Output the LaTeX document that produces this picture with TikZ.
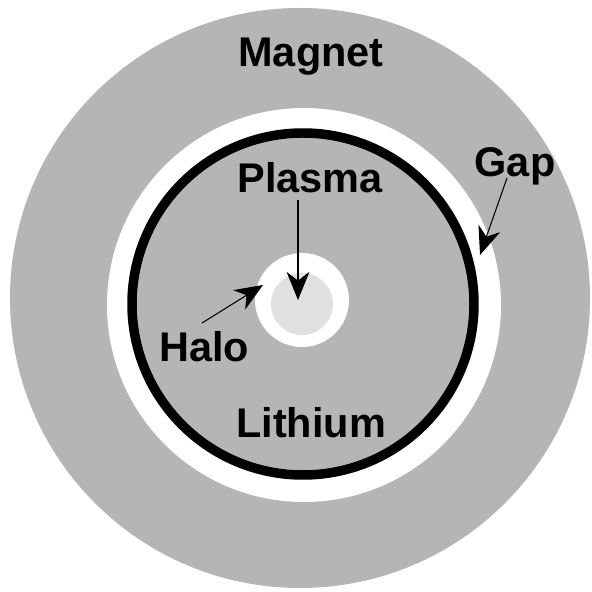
\documentclass[tikz,border=0pt]{standalone}
\usepackage{tikz}
\usetikzlibrary{arrows.meta}
\usepackage{tkz-euclide}
\usepackage{fontspec}
\setmainfont{Liberation Sans}
\definecolor{magnetgray}{gray}{0.71}
\definecolor{plasmagray}{gray}{0.88}

\begin{document}
\begin{tikzpicture}[scale=2,
    layer name/.style={font=\fontsize{23.6}{28}\selectfont\bfseries, inner sep=0pt, anchor=base},
    pointer/.style={line width=0.6pt, -{Stealth[length=16pt, width=13pt, inset=5pt]}}]
                \useasboundingbox (-3.00,-2.92) rectangle (2.92,3.00);
                % centres and a point on each ring
                \tkzDefPoints{0/0.02/M, 0/2.92/m, 0.04/-0.05/G, 0.04/1.92/g,
                  0.03/-0.04/L, 0.03/1.67/l, 0.02/0/H, 0.02/0.47/h, 0.02/-0.04/P, 0.02/0.27/p}
                % arrow ends
                \tkzDefPoints{-0.02/1.00/Ps, -0.02/0.00/Pe, -0.98/-0.23/Hs, -0.37/0.15/He,
                  2.07/1.22/Gs, 1.80/0.45/Ge}
                \tkzFillCircle[color=magnetgray](M,m)
                \tkzFillCircle[color=white](G,g)
                \tkzDrawCircle[draw=black, line width=5.4pt, fill=magnetgray](L,l)
                \tkzFillCircle[color=white](H,h)
                \tkzFillCircle[color=plasmagray](P,p)
                \node[layer name] (magnet) at (0.11,2.33) {Magnet};
                \node[layer name] (plasma) at (0.10,1.07) {Plasma};
                \node[layer name] (halo) at (-0.96,-0.62) {Halo};
                \node[layer name] (lithium) at (0.11,-1.37) {Lithium};
                \node[layer name] (gap) at (2.15,1.23) {Gap};
                \draw[pointer] (Ps) -- (Pe);
                \draw[pointer] (Hs) -- (He);
                \draw[pointer] (Gs) -- (Ge);
            \end{tikzpicture}
\end{document}
